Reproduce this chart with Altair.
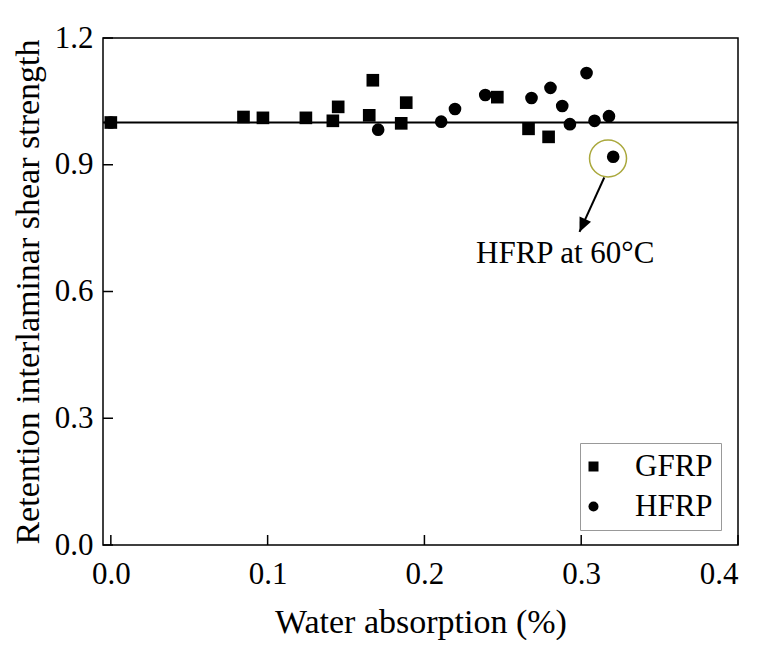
import altair as alt
import pandas as pd

# ---- data ----
gfrp_x = [0.0, 0.0846, 0.0970, 0.1244, 0.1416, 0.1450, 0.1648, 0.1671, 0.1852, 0.1884, 0.2465, 0.2664, 0.2792]
gfrp_y = [1.000, 1.013, 1.011, 1.011, 1.004, 1.037, 1.017, 1.100, 0.998, 1.047, 1.060, 0.985, 0.966]
hfrp_x = [0.0, 0.1705, 0.2107, 0.2195, 0.2388, 0.2683, 0.2804, 0.2879, 0.2928, 0.3034, 0.3085, 0.3177, 0.3204]
hfrp_y = [1.000, 0.983, 1.002, 1.032, 1.065, 1.058, 1.082, 1.039, 0.996, 1.117, 1.004, 1.015, 0.919]

x_ticks = [0.0, 0.1, 0.2, 0.3, 0.4]
y_ticks = [0.0, 0.3, 0.6, 0.9, 1.2]
ref_level = [1.0]

# annotation (data coordinates)
highlight_x = [0.3171]
highlight_y = [0.9148]
arrow_x = [0.3147]
arrow_y = [0.8698]
arrow_x2 = [0.2989]
arrow_y2 = [0.7411]
note_text = ["HFRP at 60°C"]
note_x = [0.2898]
note_y = [0.667]

FONT = "Liberation Serif"
W, H = 635, 507

pts = pd.DataFrame({
    "x": gfrp_x + hfrp_x,
    "y": gfrp_y + hfrp_y,
    "Material": ["GFRP"] * len(gfrp_x) + ["HFRP"] * len(hfrp_x),
})

xs = alt.Scale(domain=[-0.005, 0.4], nice=False, zero=False)
ys = alt.Scale(domain=[0.0, 1.2], nice=False, zero=False)

x_axis = alt.Axis(values=x_ticks, format=".1f", ticks=False, domain=False, grid=False,
                  labelFont=FONT, labelFontSize=31, labelColor="black", labelPadding=14,
                  title="Water absorption (%)", titleFont=FONT, titleFontSize=34,
                  titleFontWeight="normal", titleColor="black", titlePadding=16)
y_axis = alt.Axis(values=y_ticks, format=".1f", ticks=False, domain=False, grid=False,
                  labelFont=FONT, labelFontSize=31, labelColor="black", labelPadding=10,
                  title="Retention interlaminar shear strength", titleFont=FONT, titleFontSize=34,
                  titleFontWeight="normal", titleColor="black", titlePadding=9)

base_ref = alt.Chart(pd.DataFrame({"y": ref_level})).mark_rule(color="black", strokeWidth=2).encode(
    y=alt.Y("y:Q", scale=ys, axis=y_axis),
)

xtick_layer = alt.Chart(pd.DataFrame({"x": x_ticks})).mark_rule(color="black", strokeWidth=1.5).encode(
    x=alt.X("x:Q", scale=xs, axis=x_axis),
    y=alt.value(H), y2=alt.value(H - 10),
)
ytick_layer = alt.Chart(pd.DataFrame({"y": y_ticks})).mark_rule(color="black", strokeWidth=1.5).encode(
    y=alt.Y("y:Q", scale=ys),
    x=alt.value(0), x2=alt.value(10),
)

shape_scale = alt.Scale(domain=["GFRP", "HFRP"], range=["square", "circle"])
color_scale = alt.Scale(domain=["GFRP", "HFRP"], range=["black", "black"])
leg = alt.Legend(title=None, orient="none", legendX=477, legendY=405,
                 labelFont=FONT, labelFontSize=31, labelColor="black",
                 symbolSize=100, symbolOffset=-10, labelOffset=26, rowPadding=8, padding=8,
                 strokeColor="#999999", symbolStrokeWidth=0)

points = alt.Chart(pts).mark_point(filled=True, size=160, opacity=1).encode(
    x=alt.X("x:Q", scale=xs),
    y=alt.Y("y:Q", scale=ys),
    shape=alt.Shape("Material:N", scale=shape_scale, legend=leg),
    color=alt.Color("Material:N", scale=color_scale, legend=leg),
)

ring = alt.Chart(pd.DataFrame({"x": highlight_x, "y": highlight_y})).mark_point(
    shape="circle", size=1369, filled=False, stroke="#aaa83c", strokeWidth=1.5, opacity=1
).encode(x=alt.X("x:Q", scale=xs), y=alt.Y("y:Q", scale=ys))

arrow_line = alt.Chart(pd.DataFrame({"x": arrow_x, "y": arrow_y, "x2": arrow_x2, "y2": arrow_y2})).mark_rule(
    color="black", strokeWidth=2
).encode(x=alt.X("x:Q", scale=xs), y=alt.Y("y:Q", scale=ys), x2="x2:Q", y2="y2:Q")

arrow_head = alt.Chart(pd.DataFrame({"x": arrow_x2, "y": arrow_y2})).mark_point(
    shape="M0,0L-0.45,-1L0.45,-1Z", size=784, filled=True, color="black", opacity=1, angle=24.5
).encode(x=alt.X("x:Q", scale=xs), y=alt.Y("y:Q", scale=ys))

note = alt.Chart(pd.DataFrame({"x": note_x, "y": note_y, "t": note_text})).mark_text(
    font=FONT, fontSize=31, color="black", align="center", baseline="alphabetic"
).encode(x=alt.X("x:Q", scale=xs), y=alt.Y("y:Q", scale=ys), text="t:N")

chart = alt.layer(
    base_ref, xtick_layer, ytick_layer, points, ring, arrow_line, arrow_head, note
).properties(
    width=W, height=H,
    autosize=alt.AutoSizeParams(type="none"),
    padding={"left": 95, "top": 30, "right": 23, "bottom": 95},
    background="white",
).configure_view(
    stroke="black", strokeWidth=1.5
)

chart.save("out.html", embed_options={"renderer": "svg", "actions": False})
